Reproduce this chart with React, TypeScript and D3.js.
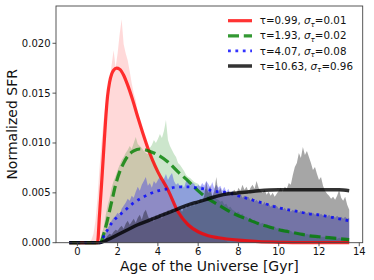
import React from 'react';
import * as d3 from 'd3';

const W = 374;
const H = 280;
const M = { top: 6, right: 11.3, bottom: 37.3, left: 56 };
const FONT = '"DejaVu Sans", sans-serif';

// smooth SFR models (age in Gyr, normalized SFR)
const redAge = [-0.4, 1.0, 1.1, 1.2, 1.3, 1.4, 1.5, 1.6, 1.7, 1.8, 1.95, 2.1, 2.3, 2.5, 2.75, 3.0, 3.25, 3.5, 3.75, 4.0, 4.5, 5.0, 5.5, 6.0, 6.5, 7.0, 8.0, 9.0, 10.0, 11.0, 13.5];
const redLine = [0, 0, 0.0028, 0.0058, 0.0090, 0.0122, 0.0147, 0.0161, 0.0169, 0.0173, 0.0175, 0.0174, 0.0168, 0.0158, 0.0143, 0.0126, 0.0110, 0.0095, 0.0082, 0.0071, 0.0053, 0.0031, 0.0018, 0.0011, 0.0007, 0.0005, 0.00025, 0.0001, 0.00004, 0, 0];

const greenAge = [-0.4, 1.15, 1.3, 1.45, 1.6, 1.75, 1.9, 2.1, 2.3, 2.55, 2.8, 3.1, 3.4, 3.8, 4.0, 4.5, 5.0, 5.5, 6.0, 6.5, 7.0, 7.5, 8.0, 8.5, 9.0, 9.5, 10.0, 10.5, 11.0, 11.5, 12.0, 12.5, 13.0, 13.5];
const greenLine = [0, 0, 0.0008, 0.0019, 0.0032, 0.0045, 0.0058, 0.0071, 0.0080, 0.0088, 0.0092, 0.0094, 0.0093, 0.0090, 0.0088, 0.0081, 0.0071, 0.0062, 0.0052, 0.0044, 0.0038, 0.0032, 0.0027, 0.0023, 0.0019, 0.0016, 0.0013, 0.0011, 0.0009, 0.0007, 0.0006, 0.0005, 0.0004, 0.0003];

const blueAge = [-0.4, 1.2, 1.3, 1.5, 1.75, 2.0, 2.4, 2.8, 3.2, 3.6, 4.0, 4.5, 5.0, 5.5, 6.0, 6.5, 7.0, 7.5, 8.0, 8.5, 9.0, 9.5, 10.0, 10.5, 11.0, 11.5, 12.0, 12.5, 13.0, 13.5];
const blueLine = [0, 0, 0.0006, 0.0013, 0.0021, 0.0026, 0.0033, 0.0040, 0.0045, 0.0049, 0.0052, 0.0054, 0.0056, 0.0056, 0.0055, 0.0053, 0.0051, 0.0050, 0.0047, 0.0044, 0.0041, 0.0038, 0.0035, 0.0033, 0.0031, 0.0029, 0.0028, 0.0026, 0.0024, 0.0022];

const blackAge = [-0.4, 1.1, 1.5, 2.0, 2.5, 3.0, 3.5, 4.0, 4.5, 5.0, 5.5, 6.0, 6.5, 7.0, 7.5, 8.0, 8.5, 9.0, 10.0, 11.0, 12.0, 13.0, 13.5];
const blackLine = [0, 0, 0.0003, 0.0008, 0.0013, 0.0018, 0.0022, 0.0026, 0.0030, 0.0034, 0.0038, 0.0041, 0.0044, 0.0047, 0.0049, 0.0050, 0.0051, 0.0052, 0.0053, 0.0053, 0.0053, 0.0053, 0.0052];

// binned SFR histories behind the models: 0.1 Gyr bins, values in units of 1e-4
const BIN = 0.1;
const redFillStart = 0.5;
const redFill = [0, 1, 3, 9, 22, 45, 75, 100, 122, 140, 152, 163, 178, 193, 176, 190, 209, 224, 199, 190, 183, 172, 160, 150, 143, 131, 124, 116, 110, 103, 97, 91, 87, 81, 77, 72, 68, 64, 60, 57, 52, 48, 44, 40, 36, 32, 29, 26, 23, 21, 19, 17, 15, 14, 12, 11, 10, 9, 8, 8, 7, 6, 6, 5, 5, 4, 4, 3, 3, 2, 0];
const greenFillStart = 1.1;
const greenFill = [0, 8, 15, 27, 37, 45, 55, 62, 67, 73, 78, 83, 86, 90, 93, 97, 94, 100, 106, 99, 97, 95, 92, 90, 89, 95, 98, 103, 100, 104, 109, 105, 112, 123, 103, 97, 93, 89, 86, 80, 78, 75, 72, 68, 66, 65, 63, 61, 60, 59, 56, 57, 53, 54, 50, 51, 47, 48, 44, 43, 41, 42, 38, 39, 35, 36, 33, 32, 30, 31, 28, 29, 26, 26, 24, 25, 22, 23, 21, 21, 19, 20, 18, 18, 16, 17, 15, 16, 14, 15, 13, 14, 12, 13, 11, 12, 10, 11, 10, 10, 9, 9, 8, 9, 8, 8, 7, 7, 6, 7, 6, 6, 6, 5, 6, 5, 5, 5, 4, 5, 4, 4, 4, 3, 3];
const blueFillStart = 1.2;
const blueFill = [0, 4, 9, 14, 18, 22, 25, 27, 30, 28, 34, 37, 40, 44, 42, 47, 45, 51, 56, 52, 58, 62, 66, 57, 60, 55, 62, 59, 63, 66, 61, 64, 69, 63, 67, 70, 62, 58, 60, 56, 58, 55, 62, 63, 57, 60, 59, 55, 58, 56, 60, 57, 62, 59, 55, 61, 54, 58, 55, 57, 52, 56, 51, 54, 49, 52, 48, 50, 47, 49, 45, 47, 44, 46, 42, 45, 41, 43, 40, 42, 38, 41, 37, 39, 36, 38, 35, 37, 34, 36, 33, 35, 32, 34, 31, 33, 31, 33, 30, 32, 30, 31, 29, 31, 28, 30, 28, 29, 27, 29, 27, 28, 26, 28, 26, 27, 25, 27, 25, 26, 24, 26, 24, 25];
const grayFillStart = 1.2;
const grayFill = [0, 2, 4, 7, 9, 8, 11, 13, 12, 15, 17, 14, 19, 22, 18, 21, 24, 20, 25, 28, 23, 30, 33, 27, 22, 26, 21, 28, 25, 29, 24, 31, 27, 33, 29, 34, 30, 36, 32, 35, 31, 37, 34, 39, 36, 40, 37, 42, 39, 44, 41, 47, 62, 50, 58, 46, 52, 66, 50, 55, 49, 53, 48, 52, 47, 51, 53, 49, 55, 52, 58, 53, 56, 51, 55, 58, 54, 62, 55, 52, 50, 53, 48, 51, 47, 50, 46, 49, 52, 55, 51, 56, 54, 60, 58, 68, 76, 80, 90, 85, 96, 88, 92, 86, 80, 73, 76, 69, 63, 66, 57, 52, 49, 47, 44, 46, 43, 47, 53, 45, 42, 46, 38, 33];

const xTicks = [0, 2, 4, 6, 8, 10, 12, 14];
const yTicks = [0, 0.005, 0.01, 0.015, 0.02];

const legendTau = ['0.99', '1.93', '4.07', '10.63'];
const legendSigma = ['0.01', '0.02', '0.08', '0.96'];

const styles = [
  { color: 'red', width: 3.2, dash: undefined as string | undefined, fillOpacity: 0.15 },
  { color: 'green', width: 3.2, dash: '11 4.8', fillOpacity: 0.2 },
  { color: 'blue', width: 2.8, dash: '2.8 4.6', fillOpacity: 0.3 },
  { color: 'black', width: 3.5, dash: undefined, fillOpacity: 0.35 },
];

export default function App() {
  const iw = W - M.left - M.right;
  const ih = H - M.top - M.bottom;
  const x = d3.scaleLinear().domain([-1.06, 14.17]).range([0, iw]);
  const y = d3.scaleLinear().domain([0, 0.02374]).range([ih, 0]);

  const area = (start: number, vals: number[]) =>
    d3.area<number>()
      .x((_, i) => x(start + i * BIN))
      .y0(y(0))
      .y1(v => y(v * 1e-4))(vals) || '';

  const line = (ages: number[], vals: number[]) =>
    d3.line<number>()
      .x((_, i) => x(ages[i]))
      .y(v => y(v))
      .curve(d3.curveMonotoneX)(vals) || '';

  const fills = [
    area(redFillStart, redFill),
    area(greenFillStart, greenFill),
    area(blueFillStart, blueFill),
    area(grayFillStart, grayFill),
  ];
  const lines = [
    line(redAge, redLine),
    line(greenAge, greenLine),
    line(blueAge, blueLine),
    line(blackAge, blackLine),
  ];

  return (
    <div style={{ position: 'absolute', left: 0, top: 0, width: W, height: H, background: '#fff' }}>
      <svg width={W} height={H} style={{ display: 'block' }} fontFamily={FONT}>
        <g transform={`translate(${M.left},${M.top})`}>
          {fills.map((d, i) => (
            <path key={'f' + i} d={d} fill={styles[i].color} fillOpacity={styles[i].fillOpacity} stroke="none" />
          ))}
          {lines.map((d, i) => (
            <path key={'l' + i} d={d} fill="none" stroke={styles[i].color} strokeOpacity={0.8}
              strokeWidth={styles[i].width} strokeDasharray={styles[i].dash} />
          ))}

          <rect x={0} y={0} width={iw} height={ih} fill="none" stroke="#444" strokeWidth={0.9} />

          {yTicks.map(t => (
            <g key={'y' + t} transform={`translate(0,${y(t)})`}>
              <line x1={-3.5} x2={0} stroke="#444" strokeWidth={0.9} />
              <text x={-5.5} dy="0.35em" textAnchor="end" fontSize={10} fill="#111">{t.toFixed(3)}</text>
            </g>
          ))}
          {xTicks.map(t => (
            <g key={'x' + t} transform={`translate(${x(t)},${ih})`}>
              <line y1={0} y2={3.5} stroke="#444" strokeWidth={0.9} />
              <text y={12.8} textAnchor="middle" fontSize={10} fill="#111">{t}</text>
            </g>
          ))}

          {legendTau.map((tau, i) => {
            const ly = 14.7 + i * 15.1;
            return (
              <g key={'lg' + i} transform={`translate(${228 - M.left},${ly})`}>
                <line x1={0} x2={24} y1={0} y2={0} stroke={styles[i].color} strokeOpacity={0.8}
                  strokeWidth={styles[i].width} strokeDasharray={styles[i].dash} />
                <text x={31.7} dy="0.35em" fontSize={10.3} fill="#111">
                  τ={tau}, <tspan fontStyle="italic">σ</tspan>
                  <tspan fontStyle="italic" fontSize={7.2} dy={2.2}>τ</tspan>
                  <tspan dy={-2.2}>={legendSigma[i]}</tspan>
                </text>
              </g>
            );
          })}
        </g>

        <text x={M.left + iw / 2} y={270.5} textAnchor="middle" fontSize={14} fill="#111">Age of the Universe [Gyr]</text>
        <text transform={`translate(16.5,${M.top + ih / 2}) rotate(-90)`} textAnchor="middle" fontSize={14} fill="#111">Normalized SFR</text>
      </svg>
    </div>
  );
}
